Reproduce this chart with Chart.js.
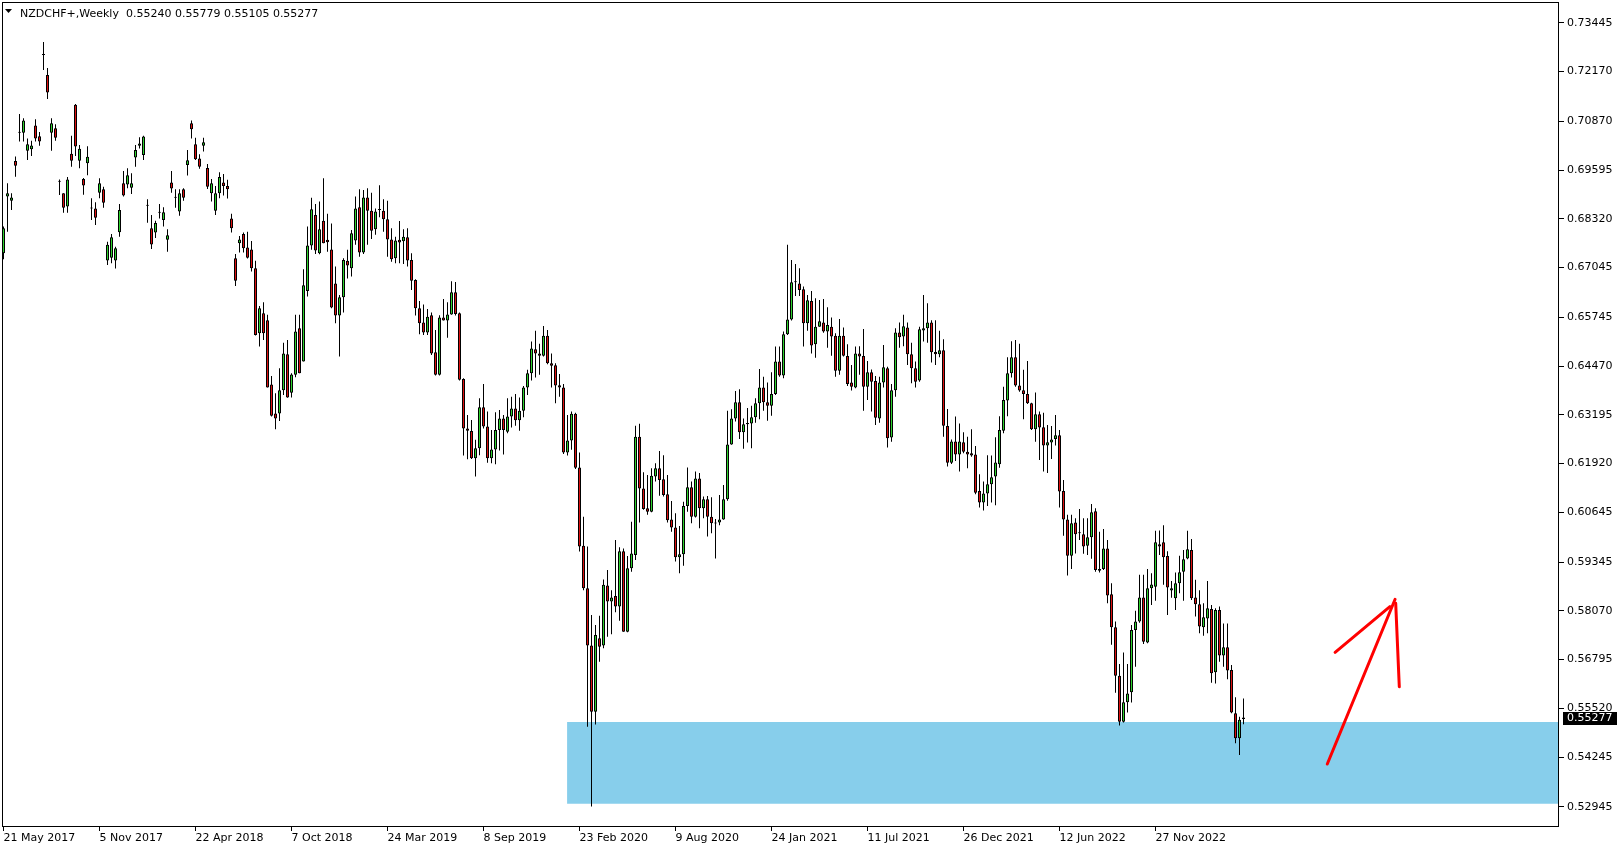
<!DOCTYPE html>
<html>
<head>
<meta charset="utf-8">
<script src="https://cdn.jsdelivr.net/npm/chart.js@4/dist/chart.umd.min.js"></script>
<style>
html,body{margin:0;padding:0;background:#ffffff;}
#wrap{width:1624px;height:850px;position:relative;}
</style>
</head>
<body>
<div id="wrap"><canvas id="c" width="1624" height="850"></canvas></div>
<script>
// ---------- data (weekly NZDCHF, one entry per week) ----------
const symbolTitle = 'NZDCHF+,Weekly';

const opens = [
.6742,.6890,.6879,.6983,.7057,.7057,.7010,.7014,.7076,.7048,
.7260,.7208,.7057,.7069,.6929,.6899,.6864,.7002,.7130,.6984,
.6936,.6977,.6859,.6859,.6900,.6909,.6723,.6730,.6723,.6797,
.6925,.6922,.6913,.6992,.7023,.6999,.6866,.6807,.6796,.6848,
.6829,.6777,.6927,.6887,.6851,.6909,.6973,.7082,.7027,.6990,
.7023,.6965,.6899,.6853,.6899,.6927,.6918,.6833,.6729,.6768,
.6792,.6757,.6752,.6703,.6533,.6585,.6567,.6399,.6323,.6323,
.6384,.6478,.6377,.6424,.6546,.6459,.6643,.6762,.6842,.6742,
.6827,.6777,.6752,.6663,.6579,.6627,.6722,.6703,.6775,.6862,
.6744,.6888,.6853,.6805,.6855,.6853,.6831,.6778,.6729,.6777,
.6773,.6784,.6724,.6672,.6598,.6561,.6535,.6580,.6483,.6424,
.6574,.6566,.6582,.6640,.6585,.6413,.6284,.6277,.6206,.6232,
.6339,.6289,.6206,.6229,.6280,.6310,.6275,.6315,.6336,.6305,
.6330,.6391,.6428,.6491,.6480,.6474,.6526,.6454,.6449,.6397,
.6391,.6221,.6252,.6322,.6182,.5977,.5866,.5716,.5543,.5735,
.5716,.5873,.5831,.5846,.5818,.5963,.5752,.5918,.5953,.6262,
.6127,.6075,.6066,.6158,.6180,.6151,.6112,.6046,.6025,.5947,
.5955,.6081,.6130,.6053,.6153,.6075,.6099,.6053,.6038,.6038,
.6046,.6099,.6242,.6310,.6352,.6274,.6298,.6297,.6313,.6350,
.6391,.6352,.6343,.6374,.6459,.6422,.6530,.6569,.6666,.6663,
.6648,.6559,.6617,.6504,.6550,.6561,.6537,.6550,.6526,.6435,
.6526,.6473,.6404,.6391,.6480,.6473,.6393,.6431,.6408,.6310,
.6404,.6441,.6260,.6384,.6535,.6524,.6548,.6478,.6441,.6409,
.6540,.6546,.6561,.6484,.6478,.6488,.6290,.6194,.6250,.6216,
.6248,.6223,.6219,.6216,.6120,.6090,.6114,.6138,.6158,.6190,
.6278,.6357,.6428,.6470,.6396,.6384,.6374,.6350,.6282,.6321,
.6287,.6239,.6247,.6256,.6266,.6120,.6046,.5951,.6038,.6010,
.6007,.5977,.5999,.6067,.5916,.5916,.5970,.5850,.5764,.5637,
.5517,.5568,.5594,.5757,.5779,.5842,.5724,.5866,.5870,.5981,
.5986,.5950,.5860,.5840,.5879,.5909,.5944,.5966,.5842,.5824,
.5764,.5787,.5812,.5646,.5809,.5690,.5712,.5652,.5539,.5474,
.55240];

const highs = [
.6812,.6925,.6899,.6995,.7106,.7095,.7042,.7036,.7092,.7059,
.7294,.7226,.7095,.7079,.6935,.6899,.6941,.7049,.7132,.7025,
.6939,.7022,.6886,.6875,.6938,.6916,.6772,.6792,.6759,.6871,
.6957,.6964,.6951,.7025,.7045,.7049,.6883,.6842,.6827,.6871,
.6862,.6805,.6957,.6909,.6909,.6912,.7012,.7089,.7044,.7001,
.7044,.6975,.6936,.6918,.6954,.6949,.6934,.6845,.6740,.6787,
.6796,.6798,.6774,.6722,.6604,.6614,.6581,.6421,.6376,.6441,
.6508,.6515,.6428,.6581,.6581,.6700,.6812,.6887,.6871,.6877,
.6938,.6845,.6820,.6707,.6633,.6729,.6751,.6803,.6890,.6909,
.6907,.6912,.6900,.6859,.6920,.6883,.6879,.6807,.6785,.6826,
.6805,.6807,.6742,.6674,.6617,.6608,.6596,.6587,.6541,.6580,
.6622,.6614,.6669,.6667,.6587,.6415,.6319,.6306,.6254,.6363,
.6400,.6328,.6280,.6326,.6332,.6319,.6363,.6367,.6374,.6365,
.6395,.6437,.6511,.6539,.6505,.6552,.6541,.6480,.6454,.6426,
.6400,.6319,.6328,.6325,.6221,.6053,.5975,.5796,.5770,.5794,
.5889,.5914,.5861,.5992,.5973,.5970,.5950,.6040,.6291,.6296,
.6169,.6162,.6180,.6193,.6225,.6214,.6162,.6094,.6062,.6029,
.6092,.6182,.6145,.6171,.6167,.6106,.6107,.6104,.6047,.6110,
.6136,.6330,.6334,.6382,.6386,.6310,.6337,.6343,.6363,.6439,
.6419,.6404,.6431,.6498,.6498,.6537,.6764,.6724,.6714,.6703,
.6655,.6633,.6643,.6624,.6620,.6622,.6601,.6574,.6533,.6570,
.6548,.6504,.6450,.6498,.6499,.6544,.6460,.6438,.6421,.6419,
.6502,.6445,.6400,.6546,.6561,.6581,.6561,.6508,.6459,.6550,
.6633,.6611,.6567,.6567,.6539,.6517,.6335,.6255,.6315,.6297,
.6274,.6262,.6282,.6238,.6164,.6145,.6214,.6213,.6261,.6316,
.6393,.6470,.6512,.6515,.6505,.6437,.6460,.6351,.6378,.6328,
.6325,.6293,.6290,.6319,.6280,.6149,.6058,.6058,.6049,.6073,
.6049,.6049,.6086,.6075,.6014,.6021,.5992,.5879,.5779,.5668,
.5698,.5668,.5770,.5807,.5901,.5901,.5916,.5905,.6016,.6017,
.6031,.5963,.5885,.5907,.5951,.5966,.6016,.5995,.5888,.5861,
.5827,.5885,.5822,.5814,.5818,.5774,.5774,.5665,.5581,.5530,
.55779];

const lows = [
.6726,.6798,.6855,.6942,.7034,.7034,.6986,.6996,.7034,.7023,
.7221,.7145,.7010,.7036,.6894,.6848,.6848,.6968,.6996,.6964,
.6895,.6946,.6829,.6816,.6886,.6861,.6711,.6716,.6702,.6785,
.6890,.6912,.6897,.6968,.7016,.6986,.6822,.6753,.6782,.6833,
.6812,.6746,.6900,.6861,.6840,.6879,.6945,.7042,.6986,.6963,
.7008,.6910,.6877,.6842,.6886,.6893,.6885,.6796,.6656,.6744,
.6744,.6728,.6694,.6527,.6498,.6515,.6391,.6315,.6282,.6303,
.6371,.6364,.6365,.6418,.6428,.6459,.6629,.6751,.6740,.6739,
.6768,.6746,.6598,.6559,.6472,.6587,.6676,.6681,.6764,.6733,
.6740,.6764,.6779,.6790,.6836,.6798,.6733,.6720,.6716,.6716,
.6714,.6707,.6646,.6579,.6530,.6528,.6528,.6476,.6422,.6422,
.6566,.6521,.6581,.6579,.6409,.6213,.6203,.6204,.6158,.6214,
.6284,.6194,.6193,.6190,.6226,.6216,.6271,.6286,.6291,.6278,
.6313,.6371,.6409,.6417,.6424,.6472,.6452,.6391,.6350,.6367,
.6217,.6213,.6228,.6178,.5962,.5861,.5504,.5295,.5510,.5674,
.5709,.5739,.5746,.5803,.5781,.5752,.5751,.5909,.5940,.6038,
.6071,.6058,.6065,.6145,.6108,.6106,.6038,.6014,.5936,.5905,
.5925,.6066,.6036,.6051,.6023,.6049,.6001,.6010,.5944,.6031,
.6045,.6095,.6241,.6302,.6256,.6231,.6247,.6232,.6299,.6308,
.6330,.6304,.6317,.6371,.6419,.6415,.6528,.6566,.6630,.6630,
.6498,.6539,.6480,.6469,.6550,.6534,.6495,.6474,.6419,.6424,
.6472,.6395,.6383,.6389,.6424,.6330,.6358,.6328,.6293,.6299,
.6391,.6234,.6249,.6367,.6495,.6499,.6450,.6402,.6391,.6406,
.6511,.6508,.6456,.6450,.6470,.6262,.6184,.6191,.6199,.6171,
.6219,.6180,.6210,.6112,.6077,.6069,.6081,.6090,.6083,.6181,
.6271,.6316,.6417,.6393,.6380,.6308,.6348,.6280,.6249,.6201,
.6171,.6167,.6204,.6239,.6077,.6003,.5899,.5916,.5957,.5992,
.5956,.5953,.5943,.5909,.5907,.5914,.5827,.5718,.5593,.5507,
.5515,.5541,.5567,.5661,.5776,.5720,.5722,.5822,.5833,.5953,
.5875,.5796,.5841,.5809,.5853,.5833,.5942,.5835,.5792,.5748,
.5742,.5748,.5619,.5617,.5674,.5661,.5628,.5539,.5461,.5430,
.55105];

const closes = [
.6807,.6899,.6888,.6971,.7057,.7089,.7027,.7024,.7042,.7034,
.7260,.7162,.7082,.7044,.6929,.6861,.6935,.6984,.7021,.7015,
.6919,.6994,.6859,.6835,.6925,.6874,.6764,.6784,.6755,.6855,
.6893,.6946,.6925,.7012,.7029,.7047,.6866,.6765,.6821,.6848,
.6849,.6789,.6911,.6887,.6899,.6887,.6985,.7066,.6988,.6968,
.7032,.6916,.6925,.6899,.6941,.6918,.6909,.6807,.6670,.6778,
.6755,.6730,.6703,.6528,.6598,.6533,.6391,.6317,.6310,.6384,
.6480,.6365,.6425,.6537,.6428,.6658,.6762,.6857,.6749,.6805,
.6768,.6771,.6600,.6579,.6627,.6724,.6710,.6794,.6859,.6744,
.6888,.6853,.6801,.6851,.6855,.6831,.6778,.6726,.6775,.6770,
.6785,.6723,.6670,.6598,.6559,.6535,.6576,.6480,.6424,.6574,
.6566,.6582,.6640,.6583,.6411,.6284,.6278,.6206,.6232,.6339,
.6289,.6206,.6229,.6280,.6310,.6280,.6315,.6336,.6305,.6330,
.6391,.6428,.6493,.6480,.6474,.6526,.6454,.6448,.6396,.6391,
.6221,.6252,.6322,.6181,.5975,.5866,.5716,.5543,.5744,.5713,
.5875,.5831,.5842,.5818,.5963,.5752,.5918,.5957,.6262,.6127,
.6073,.6066,.6160,.6180,.6149,.6110,.6044,.6025,.5947,.5955,
.6081,.6130,.6053,.6153,.6075,.6099,.6053,.6036,.6035,.6046,
.6099,.6242,.6310,.6352,.6274,.6295,.6295,.6313,.6350,.6391,
.6352,.6343,.6374,.6459,.6422,.6530,.6569,.6666,.6666,.6646,
.6559,.6619,.6501,.6550,.6564,.6537,.6554,.6524,.6435,.6526,
.6474,.6400,.6393,.6480,.6472,.6393,.6431,.6406,.6312,.6404,
.6444,.6258,.6384,.6535,.6522,.6551,.6478,.6441,.6406,.6543,
.6546,.6561,.6483,.6478,.6488,.6291,.6194,.6250,.6216,.6250,
.6223,.6216,.6213,.6116,.6090,.6114,.6138,.6156,.6195,.6280,
.6358,.6428,.6470,.6396,.6383,.6374,.6350,.6282,.6321,.6286,
.6239,.6248,.6255,.6266,.6119,.6046,.5951,.6036,.6007,.6010,
.5975,.5999,.6065,.5914,.5912,.5970,.5847,.5764,.5637,.5517,
.5568,.5591,.5757,.5779,.5842,.5726,.5866,.5876,.5986,.5975,
.5947,.5868,.5866,.5879,.5908,.5942,.5968,.5840,.5824,.5766,
.5790,.5814,.5644,.5809,.5690,.5712,.5651,.5541,.5474,.5522,
.55277];

// time axis labels (bar index of each label, and its text)
const xTickIndex  = [0, 24, 48, 72, 96, 120, 144, 168, 192, 216, 240, 264, 288];
const xTickLabels = ['21 May 2017','5 Nov 2017','22 Apr 2018','7 Oct 2018','24 Mar 2019','8 Sep 2019',
                     '23 Feb 2020','9 Aug 2020','24 Jan 2021','11 Jul 2021','26 Dec 2021','12 Jun 2022','27 Nov 2022'];

// price axis labels
const yTickValues = [0.52945,0.54245,0.55520,0.56795,0.58070,0.59345,0.60645,0.61920,0.63195,
                     0.64470,0.65745,0.67045,0.68320,0.69595,0.70870,0.72170,0.73445];

// support zone (rectangle): starting bar and price bounds
const zoneStartBar = 140.9;
const zoneEndBar   = 388.875;
const zoneTop      = 0.55162;
const zoneBottom   = 0.53026;

// hand drawn arrow (bar index, price)
const arrowShaft     = [{x: 330.95, y: 0.54064}, {x: 347.9,  y: 0.58371}];
const arrowHeadLeft  = [{x: 332.9,  y: 0.56985}, {x: 346.6,  y: 0.58177}];
const arrowHeadRight = [{x: 348.05, y: 0.58266}, {x: 348.95, y: 0.56085}];

// visible window
const xMin = -0.375, xMax = 388.875;
const yMin = 0.52443, yMax = 0.73989;

// ---------- chart ----------
const FONT = 'DejaVu Sans';
Chart.defaults.font.family = FONT;
Chart.defaults.font.size = 11;
Chart.defaults.color = '#000';

const N = closes.length;
const idx = closes.map((_, i) => i);
const UP = '#2ed22e';
const DOWN = '#dc1010';

const wickData = idx.map(i => ({x: i, y: [lows[i], highs[i]]}));
const bodyData = idx.map(i => ({x: i, y: [Math.min(opens[i], closes[i]), Math.max(opens[i], closes[i])]}));

const overlay = {
  id: 'overlay',
  afterDraw(chart) {
    const {ctx, chartArea, scales} = chart;
    const y = scales.y;
    ctx.save();
    // frame
    ctx.strokeStyle = '#000';
    ctx.lineWidth = 1;
    ctx.strokeRect(chartArea.left + 0.5, chartArea.top + 0.5, chartArea.right - chartArea.left - 1, chartArea.bottom - chartArea.top);
    // header
    ctx.fillStyle = '#000';
    ctx.beginPath();
    ctx.moveTo(5, 9); ctx.lineTo(12, 9); ctx.lineTo(8.5, 13); ctx.closePath();
    ctx.fill();
    ctx.font = '11px "' + FONT + '"';
    ctx.textBaseline = 'alphabetic';
    ctx.textAlign = 'left';
    const last = N - 1;
    const header = symbolTitle + '  ' + [opens[last], highs[last], lows[last], closes[last]].map(v => v.toFixed(5)).join(' ');
    ctx.fillText(header, 20, 16.5);
    // current price label
    const py = Math.round(y.getPixelForValue(closes[last]));
    ctx.fillStyle = '#000';
    ctx.fillRect(chartArea.right + 4, py - 6, 54, 13);
    ctx.fillStyle = '#fff';
    ctx.textBaseline = 'middle';
    ctx.fillText(closes[last].toFixed(5), chartArea.right + 8, py + 0.5);
    ctx.restore();
  }
};

new Chart(document.getElementById('c'), {
  type: 'bar',
  data: {
    datasets: [
      {
        type: 'line', label: 'zone', order: 3,
        data: [{x: zoneStartBar, y: zoneTop}, {x: zoneEndBar, y: zoneTop}],
        borderColor: 'rgba(0,0,0,0)', borderWidth: 0, pointRadius: 0,
        backgroundColor: '#87ceeb', fill: {value: zoneBottom}
      },
      {
        type: 'bar', label: 'wick', order: 2,
        data: wickData, barThickness: 1, grouped: false,
        backgroundColor: '#000', borderWidth: 0, inflateAmount: 0, minBarLength: 1
      },
      {
        type: 'bar', label: 'body', order: 1,
        data: bodyData, barThickness: 3, grouped: false,
        backgroundColor: ctx => (closes[ctx.dataIndex] >= opens[ctx.dataIndex] ? UP : DOWN),
        borderColor: '#000', borderWidth: 1, borderSkipped: false, inflateAmount: 0, minBarLength: 1
      },
      {
        type: 'line', label: 'arrow', order: 0, data: arrowShaft,
        borderColor: '#ff0000', borderWidth: 3, pointRadius: 0, fill: false, borderCapStyle: 'round'
      },
      {
        type: 'line', label: 'arrowL', order: 0, data: arrowHeadLeft,
        borderColor: '#ff0000', borderWidth: 3, pointRadius: 0, fill: false, borderCapStyle: 'round'
      },
      {
        type: 'line', label: 'arrowR', order: 0, data: arrowHeadRight,
        borderColor: '#ff0000', borderWidth: 3, pointRadius: 0, fill: false, borderCapStyle: 'round'
      }
    ]
  },
  options: {
    responsive: false,
    animation: false,
    devicePixelRatio: 1,
    events: [],
    layout: {padding: {left: 2, top: 2, right: 0, bottom: 0}},
    plugins: {legend: {display: false}, tooltip: {enabled: false}, title: {display: false}},
    scales: {
      x: {
        type: 'linear', position: 'bottom', min: xMin, max: xMax, offset: false,
        afterFit: s => { s.height = 24; s.paddingLeft = 0; s.paddingRight = 0; },
        afterBuildTicks: s => { s.ticks = xTickIndex.map(v => ({value: v})); },
        ticks: {
          autoSkip: false, maxRotation: 0, minRotation: 0, align: 'start', padding: 1,
          color: '#000', font: {family: FONT, size: 11},
          callback: (v, i) => xTickLabels[i]
        },
        grid: {offset: false, drawOnChartArea: false, drawTicks: true, tickLength: 5, color: '#000', lineWidth: 1},
        border: {display: false}
      },
      y: {
        type: 'linear', position: 'right', min: yMin, max: yMax,
        afterFit: s => { s.width = 65; s.paddingTop = 0; s.paddingBottom = 0; },
        afterBuildTicks: s => { s.ticks = yTickValues.map(v => ({value: v})); },
        ticks: {
          autoSkip: false, padding: 3, color: '#000', font: {family: FONT, size: 11},
          callback: v => Number(v).toFixed(5)
        },
        grid: {drawOnChartArea: false, drawTicks: true, tickLength: 5, color: '#000', lineWidth: 1},
        border: {display: false}
      }
    }
  },
  plugins: [overlay]
});
</script>
</body>
</html>
